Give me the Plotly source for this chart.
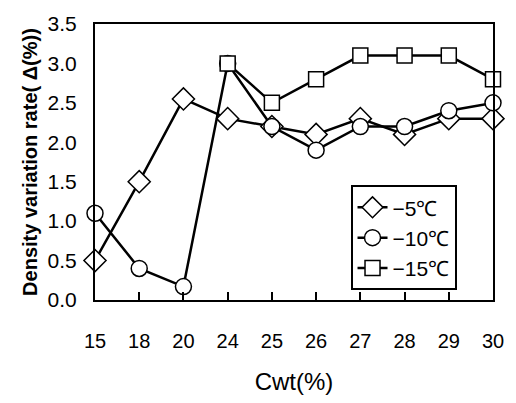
import plotly.graph_objects as go

categories = ["15", "18", "20", "24", "25", "26", "27", "28", "29", "30"]
s5 = [0.5, 1.5, 2.55, 2.3, 2.2, 2.1, 2.3, 2.1, 2.3, 2.3]
s10 = [1.1, 0.4, 0.17, 3.0, 2.2, 1.9, 2.2, 2.2, 2.4, 2.5]
s15_cats = ["24", "25", "26", "27", "28", "29", "30"]
s15 = [3.0, 2.5, 2.8, 3.1, 3.1, 3.1, 2.8]
names = ["−5℃", "−10℃", "−15℃"]
yticks = [0.0, 0.5, 1.0, 1.5, 2.0, 2.5, 3.0, 3.5]

FONT = "Liberation Sans, Arial, sans-serif"

fig = go.Figure()
common = dict(mode="lines+markers", line=dict(color="black", width=2.5), cliponaxis=False)
fig.add_trace(go.Scatter(x=categories, y=s5, name=names[0],
                         marker=dict(symbol="diamond", size=17, color="white",
                                     line=dict(color="black", width=1.5)), **common))
fig.add_trace(go.Scatter(x=categories, y=s10, name=names[1],
                         marker=dict(symbol="circle", size=16, color="white",
                                     line=dict(color="black", width=1.5)), **common))
fig.add_trace(go.Scatter(x=s15_cats, y=s15, name=names[2],
                         marker=dict(symbol="square", size=15, color="white",
                                     line=dict(color="black", width=1.5)), **common))

fig.update_layout(
    width=516, height=403,
    margin=dict(l=95, r=16, t=16, b=101),
    paper_bgcolor="white", plot_bgcolor="white",
    font=dict(family=FONT, color="black", size=20),
    legend=dict(x=0.642, y=0.416, xanchor="left", yanchor="top",
                bordercolor="black", borderwidth=2, bgcolor="white",
                font=dict(size=21), tracegroupgap=0, itemwidth=30),
    showlegend=True,
)
fig.update_xaxes(
    type="category", categoryorder="array", categoryarray=categories,
    range=[0, 9], showline=True, linecolor="black", linewidth=2, mirror=True,
    ticks="inside", ticklen=8, tickwidth=1.5, tickcolor="black",
    showgrid=False, zeroline=False, ticklabelstandoff=22,
    tickfont=dict(size=20, family=FONT),
    title=dict(text="Cwt(%)", font=dict(size=24, family=FONT), standoff=22),
)
fig.update_yaxes(
    range=[0, 3.5], tickvals=yticks, ticktext=[f"{v:.1f}" for v in yticks],
    showline=True, linecolor="black", linewidth=2, mirror=True,
    ticks="", showgrid=False, zeroline=False, ticklabelstandoff=12,
    tickfont=dict(size=21, family=FONT),
    title=dict(text="<b>Density variation rate( Δ(%))</b>",
               font=dict(size=20, family=FONT), standoff=5),
)

fig.write_html("out.html", config={"displayModeBar": False})
with open("out.html", "r", encoding="utf-8") as f:
    html = f.read()
html = html.replace("<head>", "<head><style>html,body{margin:0;padding:0;}</style>", 1)
with open("out.html", "w", encoding="utf-8") as f:
    f.write(html)
